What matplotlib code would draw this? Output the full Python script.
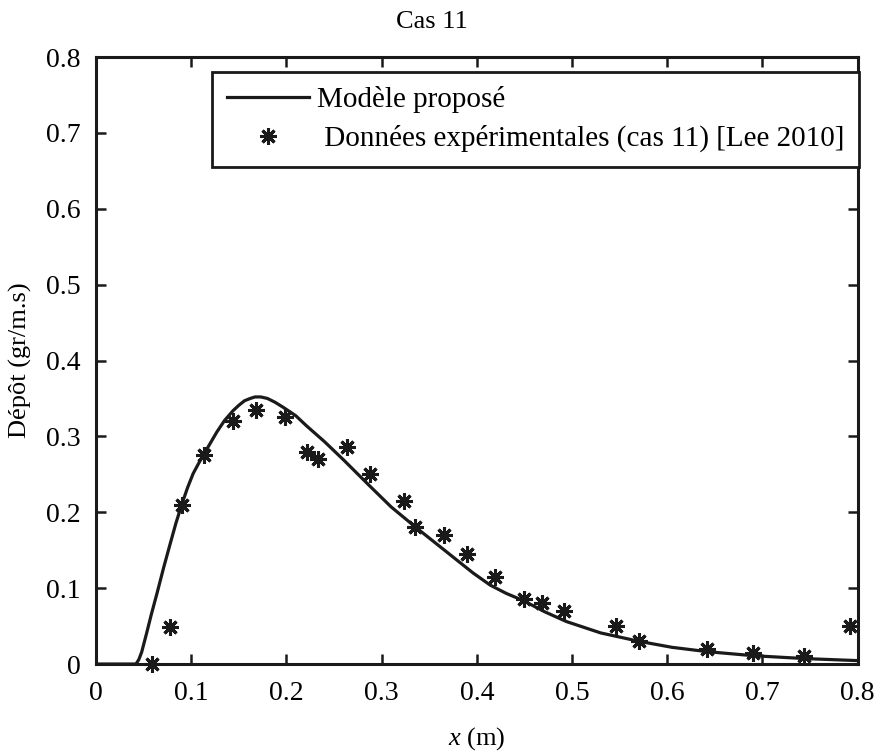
import numpy as np
import matplotlib.pyplot as plt

plt.rcParams['font.family'] = ['Liberation Serif', 'DejaVu Serif']
plt.rcParams['mathtext.fontset'] = 'custom'
plt.rcParams['mathtext.it'] = 'Liberation Serif:italic'
plt.rcParams['mathtext.rm'] = 'Liberation Serif'

# model curve
x_model = [0.0, 0.042, 0.045, 0.048, 0.053, 0.058, 0.064, 0.071, 0.078, 0.084,
           0.090, 0.096, 0.102, 0.108, 0.113, 0.120, 0.127, 0.135, 0.144, 0.150,
           0.156, 0.162, 0.167, 0.173, 0.180, 0.188, 0.197, 0.210, 0.221, 0.240,
           0.260, 0.288, 0.310, 0.336, 0.358, 0.379, 0.396, 0.414, 0.431, 0.449,
           0.471, 0.494, 0.530, 0.570, 0.605, 0.642, 0.690, 0.744, 0.800]
y_model = [0.0, 0.0, 0.006, 0.016, 0.040, 0.065, 0.093, 0.127, 0.159, 0.186,
           0.210, 0.232, 0.251, 0.265, 0.276, 0.291, 0.306, 0.321, 0.334, 0.341,
           0.347, 0.350, 0.352, 0.352, 0.350, 0.345, 0.338, 0.327, 0.314, 0.293,
           0.269, 0.234, 0.207, 0.180, 0.158, 0.137, 0.120, 0.104, 0.093, 0.0835,
           0.069, 0.056, 0.041, 0.030, 0.022, 0.0163, 0.011, 0.0072, 0.0045]

# experimental data, Lee 2010 (cas 11)
x_exp = [0.059, 0.078, 0.090, 0.113, 0.144, 0.168, 0.198, 0.222, 0.233,
         0.264, 0.2875, 0.3235, 0.3355, 0.3655, 0.390, 0.419, 0.449, 0.468,
         0.491, 0.5457, 0.570, 0.6415, 0.690, 0.744, 0.792]
y_exp = [0.0, 0.049, 0.210, 0.275, 0.320, 0.335, 0.326, 0.280, 0.270,
         0.286, 0.251, 0.215, 0.180, 0.170, 0.145, 0.115, 0.0855, 0.080,
         0.070, 0.050, 0.030, 0.020, 0.015, 0.011, 0.050]

ticks = np.arange(0, 0.81, 0.1)
tick_labels = ['0', '0.1', '0.2', '0.3', '0.4', '0.5', '0.6', '0.7', '0.8']

fig = plt.figure(figsize=(8.77, 7.55), dpi=100)
ax = fig.add_axes([0.1095, 0.1205, 0.8685, 0.804])

ax.plot(x_model, y_model, color='#1a1a1a', lw=2.3, label='Modèle proposé')
ax.plot(x_exp, y_exp, ls='none', marker=(8, 2, 0), ms=12, mew=2.2,
        color='#1a1a1a', label=' Données expérimentales (cas 11) [Lee 2010]',
        clip_on=False)

ax.set_xlim(0, 0.8)
ax.set_ylim(0, 0.8)
ax.set_xticks(ticks)
ax.set_yticks(ticks)
ax.set_xticklabels(tick_labels)
ax.set_yticklabels(tick_labels)
ax.tick_params(direction='in', top=True, right=True, length=7, width=1.8,
               labelsize=20, color='#1a1a1a')
ax.tick_params(axis='x', pad=12)
ax.tick_params(axis='y', pad=11)
for s in ax.spines.values():
    s.set_linewidth(2.2)
    s.set_color('#1a1a1a')

fig.text(432 / 877, 1 - 22 / 755, 'Cas 11', fontsize=19, ha='center', va='center')
ax.set_xlabel('$x$ (m)', fontsize=19, labelpad=14)
ax.set_ylabel('Dépôt (gr/m.s)', fontsize=19, labelpad=10)

leg = ax.legend(loc='upper right', bbox_to_anchor=(1.002, 0.976), fontsize=21,
                fancybox=False, framealpha=1, edgecolor='#1a1a1a',
                handlelength=2.8, handletextpad=0.3, borderpad=0.5,
                labelspacing=0.4, borderaxespad=0)
leg.get_frame().set_linewidth(2.0)

fig.savefig('out.png', dpi=100)
